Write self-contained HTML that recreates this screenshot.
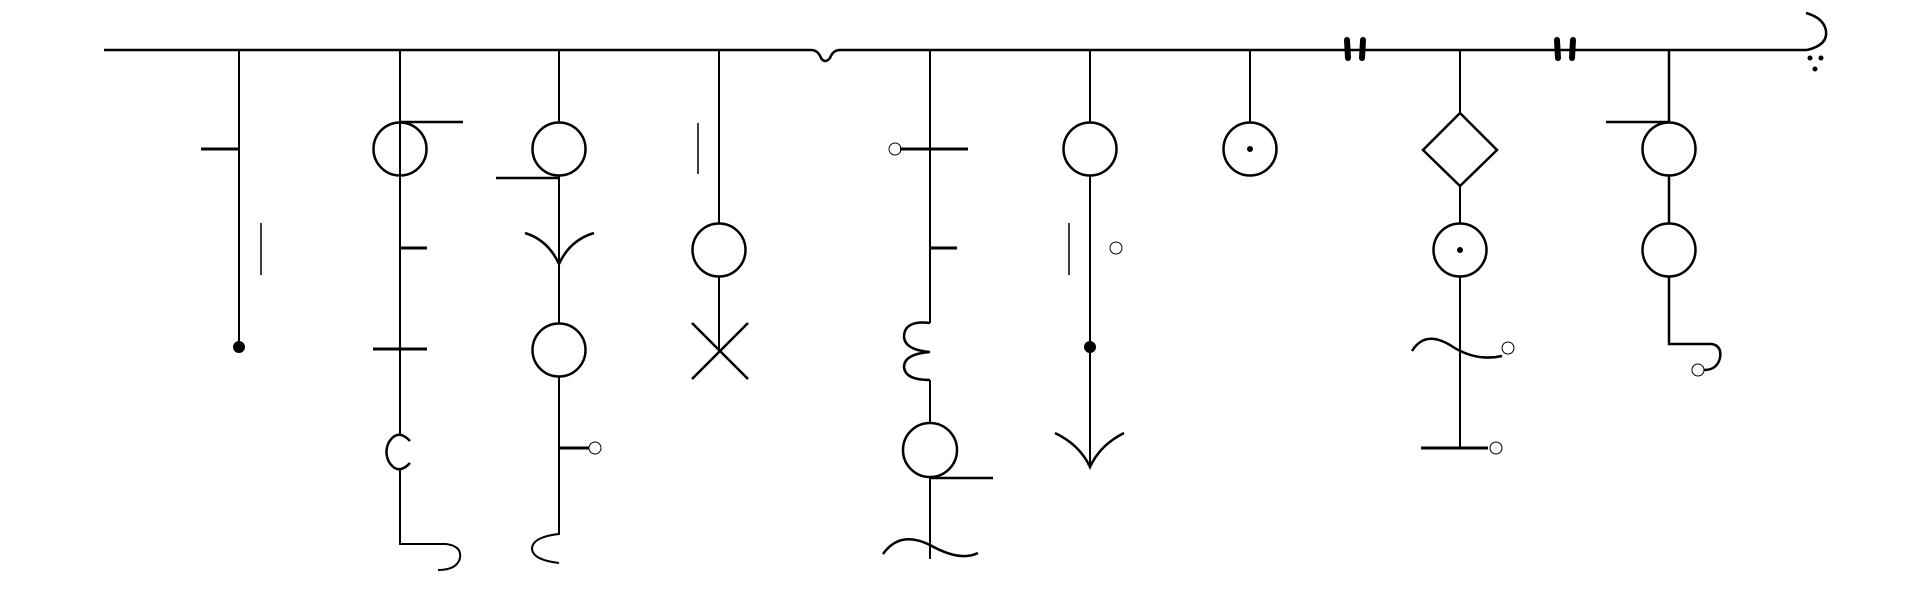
<!DOCTYPE html>
<html><head><meta charset="utf-8"><style>html,body{margin:0;padding:0;background:#fff;width:1910px;height:600px;overflow:hidden}</style></head>
<body>
<svg width="1910" height="600" viewBox="0 0 1910 600" xmlns="http://www.w3.org/2000/svg" fill="none" stroke="#000" stroke-width="2">
<g stroke-width="2.5">
<path d="M104 50 H811 Q818 50 821 58 Q825 64 830 58 Q833 50 840 50 H1807"/>
<path d="M1807 50 Q1828 45 1826 31 Q1824 18 1806 13"/>
<circle cx="1810" cy="58" r="2.5" fill="#000" stroke="none"/><circle cx="1821" cy="58" r="2.5" fill="#000" stroke="none"/><circle cx="1815" cy="69" r="2.5" fill="#000" stroke="none"/>
<g stroke-width="6" stroke-linecap="round"><path d="M1347 40 L1348 58 M1363 40 L1362 58 M1557 40 L1558 58 M1573 40 L1572 58"/></g>
</g>
<g>
<path d="M239 50 V347"/><circle cx="239" cy="347" r="5" fill="#000"/>
<path d="M201 149 H239" stroke-width="3"/><path d="M261 223 V275" stroke-width="1.5"/>
</g>
<g>
<path d="M400 50 V436 M400 468 V544 H446 Q462 546 460 558 Q457 570 438 570" stroke-width="2"/>
<circle cx="400" cy="149" r="26.5" stroke-width="2.5"/><path d="M400 122 H463" stroke-width="2.5"/>
<path d="M400 248 H427 M373 349 H427" stroke-width="3"/>
<path d="M410 441 Q398 428 389 442 Q384 452 389 462 Q398 476 410 463" stroke-width="2.5"/>
</g>
<g>
<path d="M559 50 V534 Q532 537 532 549 Q533 560 559 563"/>
<circle cx="559" cy="149" r="26.5" fill="#fff" stroke-width="2.5"/><path d="M496 178 H559" stroke-width="2.5"/>
<path d="M525 233 Q548 240 559 264 Q570 240 594 233" stroke-width="2.5"/>
<circle cx="559" cy="350" r="26.5" fill="#fff" stroke-width="2.5"/>
<path d="M559 448 H589" stroke-width="3"/><circle cx="595" cy="448" r="6" stroke-width="1"/>
</g>
<g>
<path d="M719 50 V350"/><path d="M698 123 V174" stroke-width="1.5"/>
<circle cx="719" cy="250" r="26.5" fill="#fff" stroke-width="2.5"/>
<path d="M692 323 L748 379 M748 323 L692 379" stroke-width="2.5"/>
</g>
<g>
<path d="M930 50 V323 M930 380 V559"/>
<path d="M930 323 Q904 320 904 337 Q905 350 930 352 Q904 354 904 367 Q905 380 930 380" stroke-width="2.5"/>
<path d="M900 149 H968 M930 248 H957" stroke-width="3"/><circle cx="895" cy="149" r="6" stroke-width="1"/>
<circle cx="930" cy="450" r="27" fill="#fff" stroke-width="2.5"/><path d="M930 478 H993" stroke-width="2.5"/>
<path d="M883 554 Q900 530 930 545 Q960 562 978 553" stroke-width="2.5"/>
</g>
<g>
<path d="M1090 50 V467"/><circle cx="1090" cy="149" r="26.5" fill="#fff" stroke-width="2.5"/>
<path d="M1069 223 V275" stroke-width="1.5"/><circle cx="1116" cy="248" r="6" stroke-width="1"/>
<circle cx="1090" cy="347" r="5" fill="#000"/>
<path d="M1055 433 Q1080 445 1090 467 Q1100 445 1124 433" stroke-width="2.5"/>
</g>
<g>
<path d="M1250 50 V122"/><circle cx="1250" cy="149" r="26.5" stroke-width="2.5"/><circle cx="1250" cy="149" r="3" fill="#000" stroke="none"/>
</g>
<g>
<path d="M1460 50 V448"/>
<path d="M1460 113 L1497 150 L1460 186 L1423 150 Z" fill="#fff" stroke-width="2.5"/>
<circle cx="1460" cy="250" r="26.5" fill="#fff" stroke-width="2.5"/><circle cx="1460" cy="250" r="3" fill="#000" stroke="none"/>
<path d="M1412 351 Q1425 330 1450 345 Q1475 362 1502 356" stroke-width="2.5"/><circle cx="1508" cy="348" r="6" stroke-width="1"/>
<path d="M1421 448 H1488" stroke-width="3"/><circle cx="1496" cy="448" r="6" stroke-width="1"/>
</g>
<g>
<path d="M1669 50 V344 H1712 Q1722 346 1720 358 Q1717 370 1704 370" stroke-width="2.5"/>
<circle cx="1669" cy="149" r="26.5" fill="#fff" stroke-width="2.5"/><path d="M1606 122 H1669" stroke-width="2.5"/>
<circle cx="1669" cy="250" r="26.5" fill="#fff" stroke-width="2.5"/>
<circle cx="1698" cy="370" r="6" stroke-width="1"/>
</g>
</svg>
</body></html>
